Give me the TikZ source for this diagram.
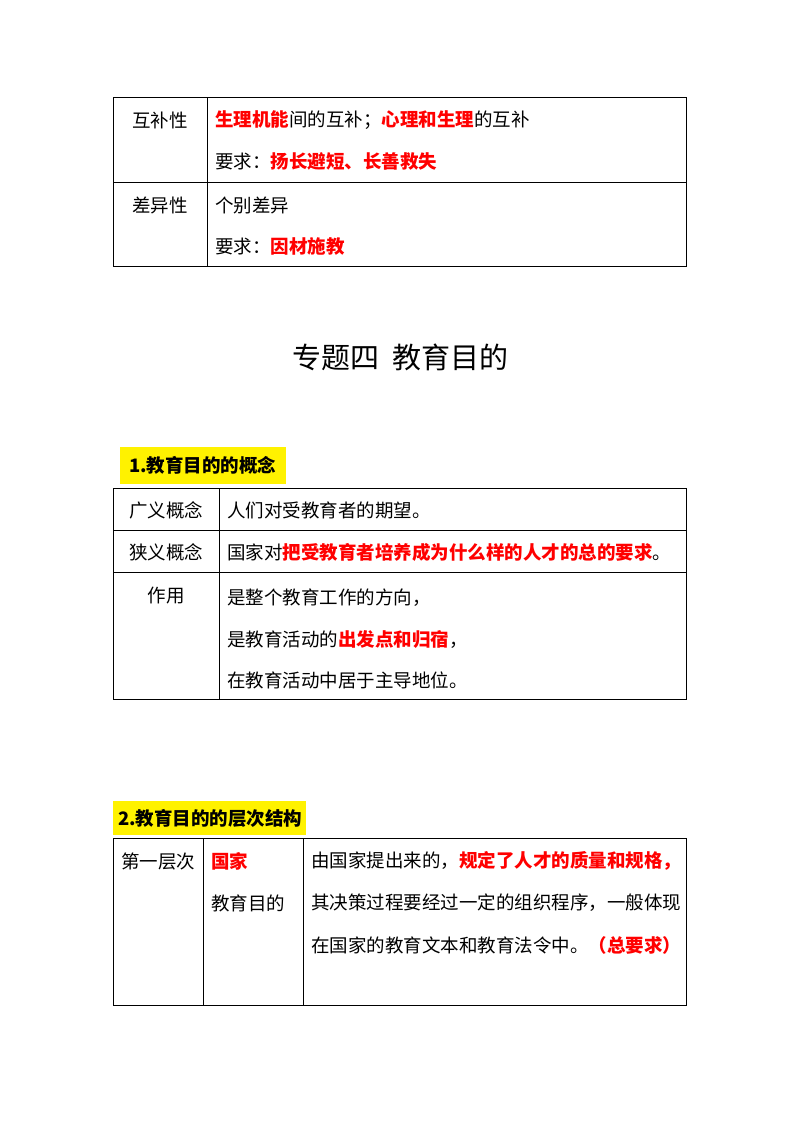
\documentclass[tikz,border=0pt]{standalone}
\usepackage{fontspec}
\setmainfont{Noto Sans CJK SC}
\newfontfamily\cjk{Noto Sans CJK SC}
\begin{document}
\begin{tikzpicture}[x=1pt,y=-1pt,
  tx/.style={anchor=west,inner sep=0pt,font=\fontsize{18.5}{18.5}\selectfont},
  tc/.style={anchor=center,inner sep=0pt,font=\fontsize{18.5}{18.5}\selectfont},
  grid/.style={draw=black,line width=0.7pt},
  hl/.style={fill=yellow,inner sep=0pt,anchor=west,font=\fontsize{18.5}{18.5}\selectfont\bfseries}]
\newcommand\rd[1]{\textcolor{red}{\bfseries #1}}
\useasboundingbox[fill=white] (0,0) rectangle (800,1132);
% table 1
\draw[grid] (113,97) rectangle (686,266);
\draw[grid] (113,182) -- (686,182);
\draw[grid] (207,97) -- (207,266);
\node[tc] (a1) at (160,120) {互补性};
\node[tx] (a2) at (215,120) {\rd{生理机能}间的互补；\rd{心理和生理}的互补};
\node[tx] (a3) at (215,161) {要求：\rd{扬长避短、长善救失}};
\node[tc] (b1) at (160,205) {差异性};
\node[tx] (b2) at (215,205) {个别差异};
\node[tx] (b3) at (215,246) {要求：\rd{因材施教}};
% title
\node[inner sep=0pt,font=\fontsize{29}{29}\selectfont] (t) at (400,357) {专题四\ \ 教育目的};
% heading 1
\node[hl,minimum height=37pt,text width=166pt,align=left] (h1) at (120,465) {\hspace{9pt}1.教育目的的概念};
% table 2
\draw[grid] (113,488) rectangle (686,699);
\draw[grid] (113,530) -- (686,530);
\draw[grid] (113,572) -- (686,572);
\draw[grid] (219,488) -- (219,699);
\node[tc] (c1) at (166,510) {广义概念};
\node[tx] (c2) at (227,510) {人们对受教育者的期望。};
\node[tx] (d2) at (227,552) {国家对\rd{把受教育者培养成为什么样的人才的总的要求}。};
\node[tc] (d1) at (166,552) {狭义概念};
\node[tc] (e1) at (166,596) {作用};
\node[tx] (e2) at (227,598) {是整个教育工作的方向，};
\node[tx] (e3) at (227,639) {是教育活动的\rd{出发点和归宿}，};
\node[tx] (e4) at (227,680) {在教育活动中居于主导地位。};
% heading 2
\node[hl,minimum height=34pt,text width=193pt,align=left] (h2) at (113,818) {\hspace{5pt}2.教育目的的层次结构};
% table 3
\draw[grid] (113,838) rectangle (686,1005);
\draw[grid] (203,838) -- (203,1005);
\draw[grid] (303,838) -- (303,1005);
\node[tc] (f1) at (158,861) {第一层次};
\node[tx] (f2) at (211,861) {\rd{国家}};
\node[tx] (f3) at (211,903) {教育目的};
\node[tx] (f4) at (311,861) {由国家提出来的，\rd{规定了人才的质量和规格，}};
\node[tx] (f5) at (311,903) {其决策过程要经过一定的组织程序，一般体现};
\node[tx] (f6) at (311,945) {在国家的教育文本和教育法令中。\rd{（总要求）}};
\end{tikzpicture}
\end{document}
